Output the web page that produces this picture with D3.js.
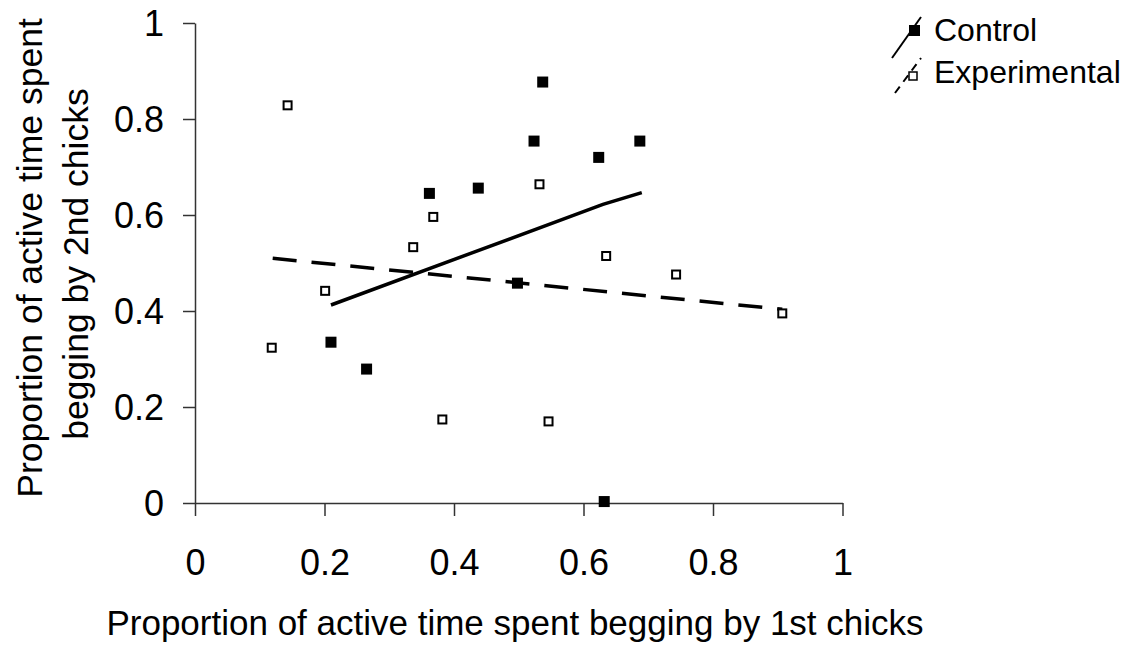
<!DOCTYPE html>
<html>
<head>
<meta charset="utf-8">
<script src="https://cdn.jsdelivr.net/npm/d3@7"></script>
<style>
  body { margin: 0; background: #fff; }
  text { font-family: "Liberation Sans", Arial, sans-serif; fill: #000; }
</style>
</head>
<body>
<svg id="chart" width="1128" height="652"></svg>
<script>
// values
const controlX = [0.21, 0.265, 0.362, 0.4375, 0.498, 0.5236, 0.537, 0.6235, 0.687, 0.632];
const controlY = [0.335, 0.279, 0.645, 0.656, 0.458, 0.754, 0.877, 0.720, 0.754, 0.003];

const experimentalX = [0.1185, 0.143, 0.201, 0.337, 0.368, 0.382, 0.532, 0.546, 0.635, 0.743, 0.907];
const experimentalY = [0.3235, 0.8285, 0.442, 0.533, 0.596, 0.174, 0.664, 0.170, 0.5146, 0.476, 0.395];

// trend lines as drawn in the picture
const controlFitX = [0.21, 0.63, 0.69];
const controlFitY = [0.4125, 0.622, 0.6465];
const experimentalFitX = [0.12, 0.907];
const experimentalFitY = [0.5098, 0.4035];

const tickValues = [0, 0.2, 0.4, 0.6, 0.8, 1];
const tickLabels = ["0", "0.2", "0.4", "0.6", "0.8", "1"];
const seriesNames = ["Control", "Experimental"];

const svg = d3.select("#chart");

const x = d3.scaleLinear().domain([0, 1]).range([195, 842.5]);
const y = d3.scaleLinear().domain([0, 1]).range([503, 23]);

const axisColor = "#333";

// x axis
const xAxisG = svg.append("g")
    .attr("transform", `translate(0,${y(0)})`)
    .call(d3.axisBottom(x)
        .tickValues(tickValues)
        .tickFormat((d, i) => tickLabels[i])
        .tickSize(13)
        .tickSizeOuter(0));
xAxisG.select(".domain").attr("stroke", axisColor).attr("stroke-width", 1.5);
xAxisG.selectAll(".tick line").attr("stroke", axisColor).attr("stroke-width", 1.5);
xAxisG.selectAll(".tick text")
    .attr("y", 72)
    .attr("dy", null)
    .style("font-size", "36px")
    .style("font-family", "'Liberation Sans', Arial, sans-serif")
    .attr("fill", "#000");

// y axis
const yAxisG = svg.append("g")
    .attr("transform", `translate(${x(0)},0)`)
    .call(d3.axisLeft(y)
        .tickValues(tickValues)
        .tickFormat((d, i) => tickLabels[i])
        .tickSize(12)
        .tickSizeOuter(0));
yAxisG.select(".domain").attr("stroke", axisColor).attr("stroke-width", 1.5);
yAxisG.selectAll(".tick line").attr("stroke", axisColor).attr("stroke-width", 1.5);
yAxisG.selectAll(".tick text")
    .attr("x", -31)
    .attr("dy", "0.36em")
    .style("font-size", "36px")
    .style("font-family", "'Liberation Sans', Arial, sans-serif")
    .attr("fill", "#000");

// axis titles
svg.append("text")
    .attr("x", 515)
    .attr("y", 635)
    .attr("text-anchor", "middle")
    .style("font-size", "35px")
    .text("Proportion of active time spent begging by 1st chicks");

svg.append("text")
    .attr("transform", "translate(42,258) rotate(-90)")
    .attr("text-anchor", "middle")
    .style("font-size", "35.5px")
    .text("Proportion of active time spent");

svg.append("text")
    .attr("transform", "translate(87.5,264) rotate(-90)")
    .attr("text-anchor", "middle")
    .style("font-size", "35.5px")
    .text("begging by 2nd chicks");

// trend lines
const line = d3.line().x(d => x(d[0])).y(d => y(d[1]));

svg.append("path")
    .datum(controlFitX.map((v, i) => [v, controlFitY[i]]))
    .attr("d", line)
    .attr("fill", "none")
    .attr("stroke", "#000")
    .attr("stroke-width", 3.5);

svg.append("path")
    .datum(experimentalFitX.map((v, i) => [v, experimentalFitY[i]]))
    .attr("d", line)
    .attr("fill", "none")
    .attr("stroke", "#000")
    .attr("stroke-width", 3.5)
    .attr("stroke-dasharray", "24,15");

// points
const filled = 11;
svg.append("g").selectAll("rect")
    .data(controlX.map((v, i) => [v, controlY[i]]))
    .enter().append("rect")
      .attr("x", d => x(d[0]) - filled / 2)
      .attr("y", d => y(d[1]) - filled / 2)
      .attr("width", filled)
      .attr("height", filled)
      .attr("fill", "#000");

const open = 8;
svg.append("g").selectAll("rect")
    .data(experimentalX.map((v, i) => [v, experimentalY[i]]))
    .enter().append("rect")
      .attr("x", d => x(d[0]) - open / 2)
      .attr("y", d => y(d[1]) - open / 2)
      .attr("width", open)
      .attr("height", open)
      .attr("fill", "#fff")
      .attr("stroke", "#000")
      .attr("stroke-width", 2);

// legend (slanted line symbols like the original)
const legend = svg.append("g");

legend.append("line")
    .attr("x1", 892).attr("y1", 58)
    .attr("x2", 921).attr("y2", 17)
    .attr("stroke", "#000").attr("stroke-width", 2);
legend.append("rect")
    .attr("x", 909).attr("y", 25)
    .attr("width", 11).attr("height", 11)
    .attr("fill", "#000");

legend.append("line")
    .attr("x1", 895).attr("y1", 93)
    .attr("x2", 921).attr("y2", 58)
    .attr("stroke", "#000").attr("stroke-width", 2)
    .attr("stroke-dasharray", "8,6");
legend.append("rect")
    .attr("x", 909).attr("y", 72)
    .attr("width", 8).attr("height", 8)
    .attr("fill", "#fff")
    .attr("stroke", "#000").attr("stroke-width", 1.5);

legend.selectAll("text")
    .data(seriesNames)
    .enter().append("text")
      .attr("x", 934)
      .attr("y", (d, i) => i === 0 ? 41 : 83)
      .style("font-size", "32px")
      .text(d => d);
</script>
</body>
</html>
